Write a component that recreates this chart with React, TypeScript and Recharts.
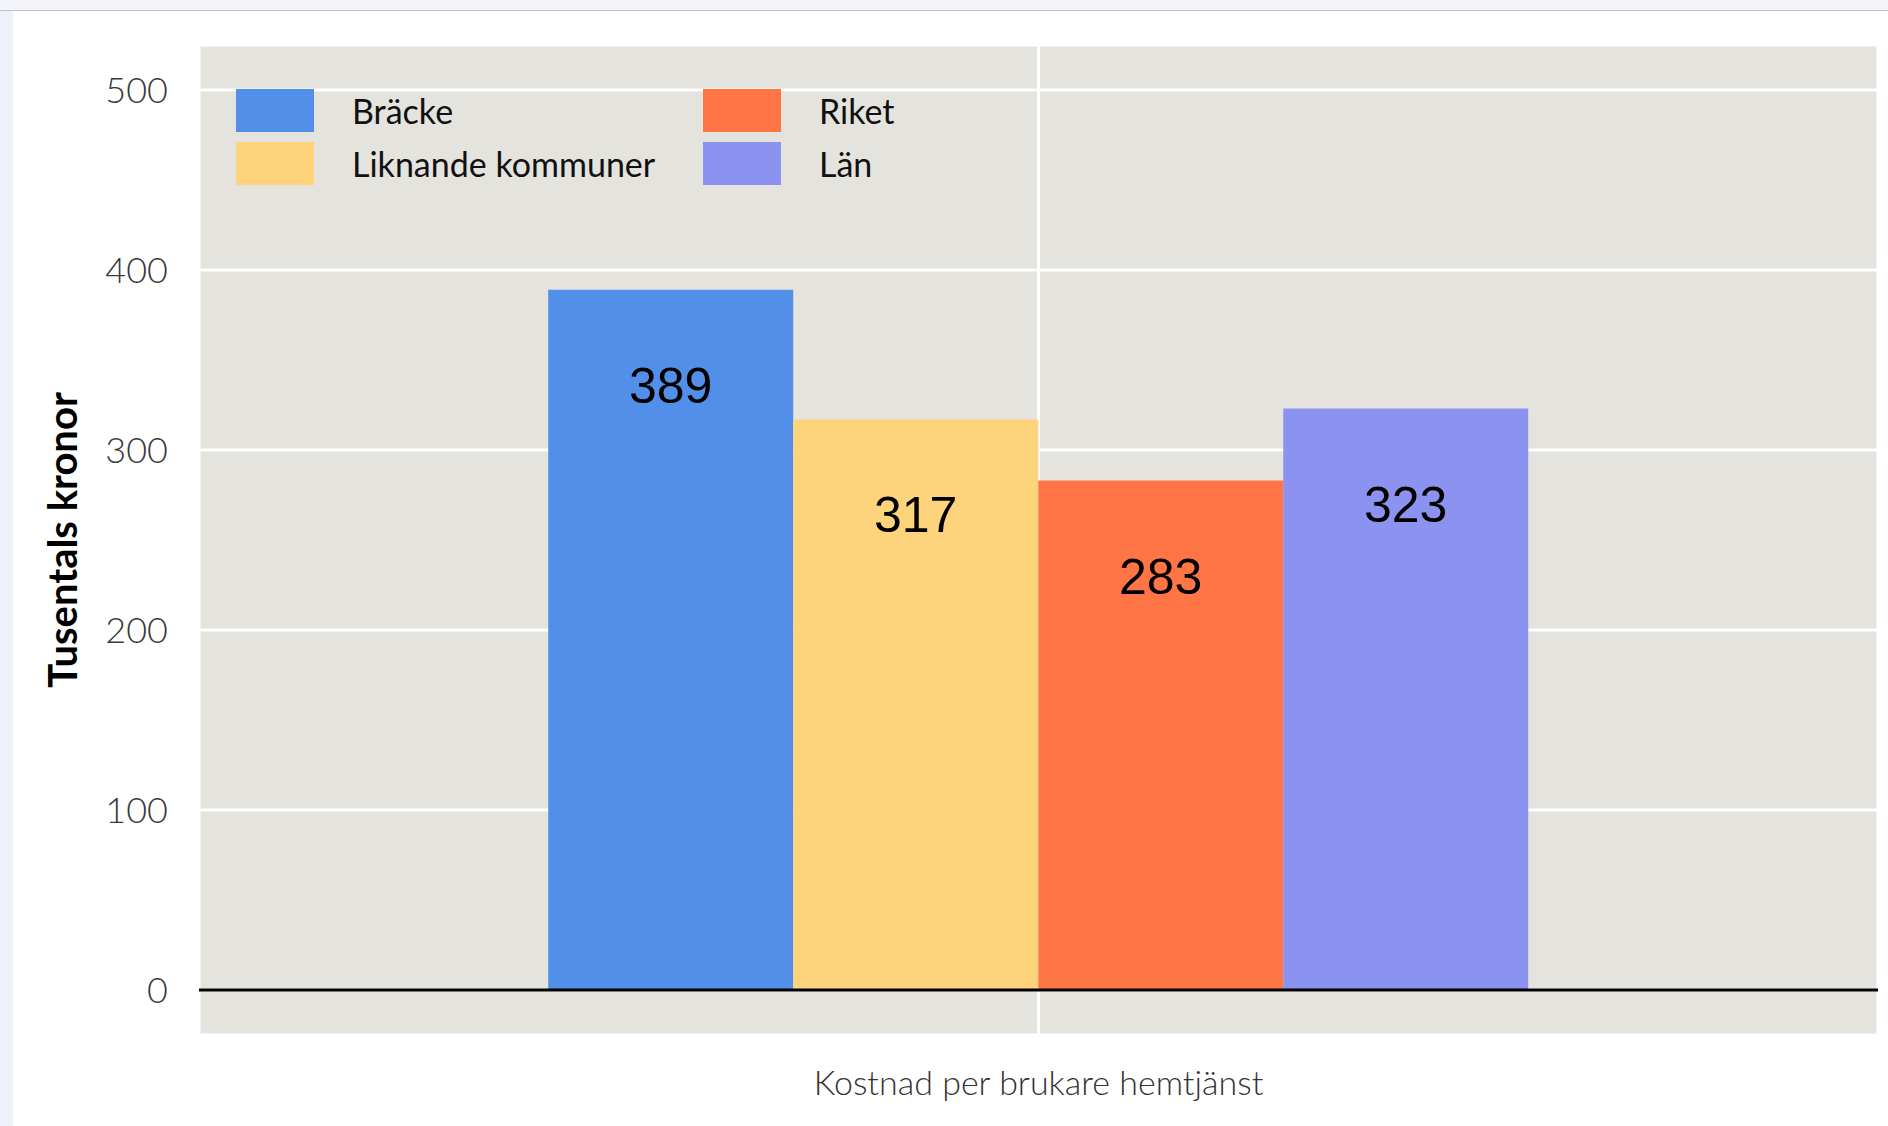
import React from "react";
import {
  BarChart,
  Bar,
  XAxis,
  YAxis,
  CartesianGrid,
  ReferenceLine,
  LabelList,
} from "recharts";

const categories = ["Kostnad per brukare hemtjänst"];
const seriesNames = ["Bräcke", "Liknande kommuner", "Riket", "Län"];
const seriesValues = [[389], [317], [283], [323]];
const seriesColors = ["#528FE8", "#FDD47C", "#FF7545", "#8C92F0"];
const yTicks = [0, 100, 200, 300, 400, 500];

const data = categories.map((name, i) => {
  const row: Record<string, string | number> = { name };
  seriesNames.forEach((s, j) => {
    row[s] = seriesValues[j][i];
  });
  return row;
});

const tickFont = "Lato, 'Open Sans', sans-serif";

const BarValue = (props: any) => {
  const { x, y, width, value } = props;
  return (
    <text
      x={x + width / 2}
      y={y + 96}
      textAnchor="middle"
      dominantBaseline="central"
      fontFamily="'Liberation Sans', Arial, sans-serif"
      fontSize={50}
      fill="#000"
    >
      {value}
    </text>
  );
};

// legend sits inside the panel, two columns filled column by column
const LegendBox = () => {
  const cols = [seriesNames.slice(0, 2), seriesNames.slice(2, 4)];
  const colX = [0, 467];
  return (
    <div style={{ position: "absolute", left: 236, top: 88, width: 700, height: 100 }}>
      {cols.map((col, ci) =>
        col.map((name, ri) => {
          const idx = ci * 2 + ri;
          return (
            <div
              key={name}
              style={{
                position: "absolute",
                left: colX[ci],
                top: ri * 53,
                display: "flex",
                alignItems: "center",
                height: 44,
              }}
            >
              <div style={{ width: 78, height: 43, background: seriesColors[idx] }} />
              <span
                style={{
                  marginLeft: 38,
                  fontFamily: tickFont,
                  fontSize: 34,
                  color: "#111",
                  whiteSpace: "nowrap",
                }}
              >
                {name}
              </span>
            </div>
          );
        })
      )}
    </div>
  );
};

export default function App() {
  return (
    <div style={{ position: "fixed", left: 0, top: 0, width: 1888, height: 1126, background: "#fff" }}>
      <div style={{ position: "absolute", left: 0, top: 0, width: 1888, height: 10, background: "#F3F5F9", borderBottom: "1px solid #BFC2CA" }} />
      <div style={{ position: "absolute", left: 0, top: 11, width: 13, height: 1115, background: "#EDF1F9" }} />
      <div style={{ position: "absolute", left: 0, top: 0 }}>
        <BarChart
          width={1888}
          height={1126}
          data={data}
          margin={{ top: 45, right: 10, bottom: 31, left: 0 }}
          barCategoryGap="20.8%"
          barGap={0}
        >
          <CartesianGrid fill="#E4E3DE" stroke="#FFFFFF" strokeWidth={3} />
          <XAxis
            dataKey="name"
            height={60}
            axisLine={false}
            tickLine={false}
            tickMargin={30}
            tick={{ fontFamily: tickFont, fontSize: 34, fill: "#333", fontWeight: 300 }}
          />
          <YAxis
            width={199}
            domain={[-25, 525]}
            ticks={yTicks}
            axisLine={false}
            tickLine={false}
            tickMargin={25}
            tick={{ fontFamily: tickFont, fontSize: 36, fill: "#3a3a3a", fontWeight: 300 }}
            label={{
              value: "Tusentals kronor",
              angle: -90,
              position: "center",
              dx: -37,
              style: { fontFamily: tickFont, fontSize: 40, fill: "#000", fontWeight: 700 },
            }}
          />
          {seriesNames.map((s, i) => (
            <Bar key={s} dataKey={s} fill={seriesColors[i]} isAnimationActive={false}>
              <LabelList dataKey={s} content={<BarValue />} />
            </Bar>
          ))}
          <ReferenceLine y={0} stroke="#000" strokeWidth={3} />
        </BarChart>
      </div>
      <LegendBox />
    </div>
  );
}
